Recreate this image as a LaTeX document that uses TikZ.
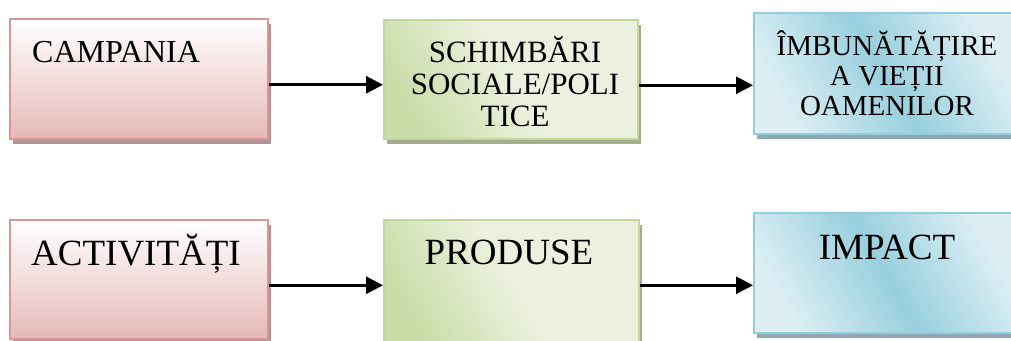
\documentclass[tikz,border=0pt]{standalone}
\usepackage{fontspec}
\setmainfont{Liberation Serif}
\usetikzlibrary{arrows.meta, shadows}

\definecolor{redline}{HTML}{D99694}
\definecolor{redlow}{HTML}{E6B9B8}
\definecolor{redshade}{HTML}{B39393}
\definecolor{greenline}{HTML}{C3D69B}
\definecolor{greendark}{HTML}{CADCA8}
\definecolor{greenlight}{HTML}{EBF1DE}
\definecolor{greenshade}{HTML}{A4AE8E}
\definecolor{blueline}{HTML}{93CDDD}
\definecolor{bluedark}{HTML}{98CFDE}
\definecolor{bluelight}{HTML}{DDEFF4}
\definecolor{blueshade}{HTML}{8EA9B3}

\tikzset{
  block/.style 2 args={rectangle, anchor=north west, inner sep=0pt, line width=1.5pt,
    minimum width=#1, minimum height=#2},
  redblock/.style={draw=redline, top color=white, bottom color=redlow,
    drop shadow={shadow xshift=3pt, shadow yshift=-5pt, fill=redshade, opacity=1}},
  greenblock/.style={draw=greenline, left color=greendark, right color=greenlight,
    middle color=greenlight, shading angle=120,
    drop shadow={shadow xshift=3pt, shadow yshift=-5pt, fill=greenshade, opacity=1}},
  blueblock/.style={draw=blueline, left color=bluelight, right color=bluelight,
    middle color=bluedark, shading angle=120,
    drop shadow={shadow xshift=3pt, shadow yshift=-5pt, fill=blueshade, opacity=1}},
  txt/.style={inner sep=0pt, text=black},
  flow/.style={line width=3pt, -{Triangle[length=17pt,width=17pt]}}
}

\begin{document}
\begin{tikzpicture}[x=1pt, y=-1pt]
\useasboundingbox (0,0) rectangle (1011,340);

% upper row
\node[block={258}{120}, redblock] (campania) at (9,18) {};
\node[block={254}{119}, greenblock] (schimbari) at (383,19) {};
\node[block={262}{121}, blueblock] (imbunatatire) at (753,12) {};

% lower row
\node[block={258}{119}, redblock] (activitati) at (9,219) {};
\node[block={255}{124}, greenblock] (produse) at (383,219) {};
\node[block={262}{120}, blueblock] (impact) at (753,212) {};

% texts
\node[txt, anchor=base west, font=\fontsize{32}{36}\selectfont] (campaniatxt) at (32,62) {CAMPANIA};
\node[txt, anchor=north, align=center, font=\fontsize{31}{32}\selectfont] (schimbaritxt) at (515,30)
  {\rule{0pt}{32pt}SCHIMBĂRI\\SOCIALE/POLI\\TICE};
\node[txt, anchor=north, align=center, font=\fontsize{29}{30}\selectfont] (imbunatatiretxt) at (887,25)
  {\rule{0pt}{30pt}ÎMBUNĂTĂȚIRE\\A VIEȚII\\OAMENILOR};
\node[txt, anchor=base, font=\fontsize{37}{40}\selectfont] (activitatitxt) at (136,265) {ACTIVITĂȚI};
\node[txt, anchor=base, font=\fontsize{37}{40}\selectfont] (produsetxt) at (509,264) {PRODUSE};
\node[txt, anchor=base, font=\fontsize{37}{40}\selectfont] (impacttxt) at (887,259) {IMPACT};

% arrows
\draw[flow] ([yshift=-6pt]campania.east) -- ([yshift=-6pt]campania.east -| schimbari.west);
\draw[flow] ([yshift=-6pt]schimbari.east) -- ([yshift=-6pt]schimbari.east -| imbunatatire.west);
\draw[flow] ([yshift=-6pt]activitati.east) -- ([yshift=-6pt]activitati.east -| produse.west);
\draw[flow] ([yshift=-6pt]produse.east |- activitati.east) -- ([yshift=-6pt]impact.west |- activitati.east);
\end{tikzpicture}
\end{document}
